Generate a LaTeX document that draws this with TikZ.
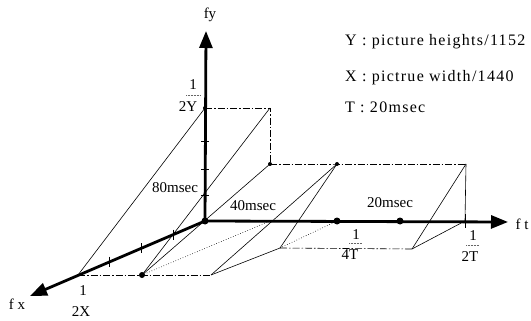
\documentclass[tikz,border=0pt]{standalone}
\usepackage{fontspec}
\setmainfont{Liberation Serif}
\newfontfamily\legfont[LetterSpace=8]{Liberation Serif}
\usetikzlibrary{arrows.meta,calc}
\begin{document}
\begin{tikzpicture}[x=1pt,y=-1pt,
  axisln/.style={line width=2.8pt,-{Triangle[length=17pt,width=13pt]}},
  thinln/.style={line width=0.6pt},
  dashln/.style={line width=0.6pt,dash pattern=on 7pt off 2pt on 1.5pt off 2pt},
  dotln/.style={line width=0.6pt,dotted},
  fracbar/.style={line width=0.5pt,densely dotted,black!60},
  tickln/.style={line width=0.8pt},
  lab/.style={font=\fontsize{15}{15}\selectfont,inner sep=0pt},
  leg/.style={font=\fontsize{16}{16}\selectfont\legfont,inner sep=0pt,anchor=base west},
  dotmark/.style={circle,fill,inner sep=0pt,minimum size=#1},
]
\useasboundingbox (0,0) rectangle (531,321);

% key points
\coordinate (O) at (205,221);
\coordinate (Y2) at (205,108);
\coordinate (X2) at (78,275);
\coordinate (T2) at (465,221);
\coordinate (T4) at (337,221);
\coordinate (T38) at (400,221);
\coordinate (Q) at (270,221);
\coordinate (A) at (142,275);
\coordinate (B) at (211,275);
\coordinate (C) at (280,248);
\coordinate (D) at (412,249);
\coordinate (P1) at (270,108);
\coordinate (P2) at (270,164);
\coordinate (P3) at (337,164);
\coordinate (P4) at (466,164);
\coordinate (Ftip) at (508,222);
\coordinate (Ytip) at (206,31);
\coordinate (Xtip) at (30,296);

% solid thin lines
\draw[thinln] (X2) -- (Y2);
\draw[thinln] (A) -- (P1);
\draw[thinln] (A) -- (P2);
\draw[thinln] (B) -- (P3);
\draw[thinln] (C) -- (P3);
\draw[thinln] (B) -- (C);
\draw[thinln] (D) -- (T2);
\draw[thinln] (D) -- (P4);
\draw[thinln] (P4) -- (T2);

% dashed lines
\draw[dashln] (Y2) -- (P1) -- (P2);
\draw[dashln] (P2) -- (P3) -- (P4);
\draw[dashln] (X2) -- (A) -- (B);
\draw[dashln] (C) -- (D);

% dotted lines
\draw[dotln] (A) -- (Q);
\draw[dotln] (C) -- (T4);

% axes
\draw[axisln] (O) -- (Ytip);
\draw[axisln] (O) -- (Ftip);
\draw[axisln] (O) -- (Xtip);

% ticks
\foreach \yy in {141,169,195} \draw[tickln] (201,\yy) -- (209,\yy);
\foreach \f in {0.25,0.5,0.75} \draw[tickln] ($(O)!\f!(X2)+(0,-5)$) -- ($(O)!\f!(X2)+(0,5)$);
\draw[tickln] (465,214) -- (465,228);

% dots
\node[dotmark=7pt] at (O) {};
\node[dotmark=4pt] at (Y2) {};
\node[dotmark=6pt] at (A) {};
\node[dotmark=4pt] at (P2) {};
\node[dotmark=4pt] at (P3) {};
\node[dotmark=7pt] at (T4) {};
\node[dotmark=7pt] at (T38) {};

% axis labels
\node[lab] (lfy) at (210,15) {fy};
\node[lab] (lft) at (522,224) {f t};
\node[lab] (lfx) at (17,304) {f x};

% fraction labels
\node[lab] (y1) at (193,85) {1};
\node[lab] (y2) at (188,107) {2Y};
\draw[fracbar] (186,95) -- (200,95);
\node[lab] (x1) at (83,291) {1};
\node[lab] (x2) at (81,312) {2X};
\node[lab] (t41) at (356,235) {1};
\node[lab,fill=white,inner sep=1.5pt] (t42) at (350,255) {4T};
\draw[fracbar] (349,243) -- (362,243);
\node[lab] (t21) at (473,236) {1};
\node[lab] (t22) at (470,257) {2T};
\draw[fracbar] (466,245) -- (479,245);

% region labels
\node[lab] (m80) at (175,188) {80msec};
\node[lab] (m40) at (253,206) {40msec};
\node[lab] (m20) at (390,203) {20msec};

% legend
\node[leg] (leg1) at (345,46) {Y : picture heights/1152};
\node[leg] (leg2) at (345,82) {X : pictrue width/1440};
\node[leg] (leg3) at (345,113) {T : 20msec};
\end{tikzpicture}
\end{document}
